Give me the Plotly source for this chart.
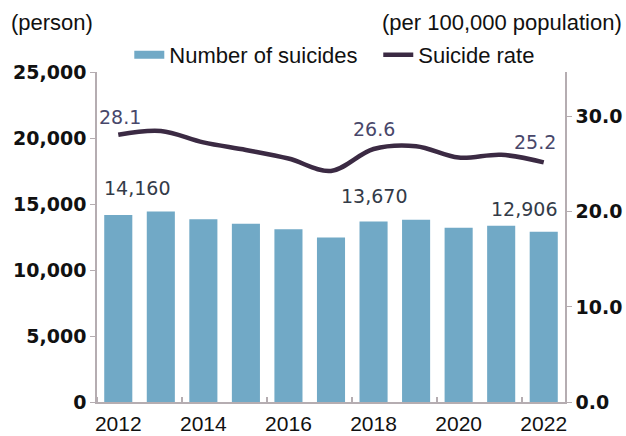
import plotly.graph_objects as go

years = [2012, 2013, 2014, 2015, 2016, 2017, 2018, 2019, 2020, 2021, 2022]
suicides = [14160, 14427, 13836, 13513, 13092, 12463, 13670, 13799, 13195, 13352, 12906]
rates = [28.1, 28.5, 27.3, 26.5, 25.6, 24.3, 26.6, 26.9, 25.7, 26.0, 25.2]
labeled_years = [2012, 2018, 2022]
left_ticks = [0, 5000, 10000, 15000, 20000, 25000]
right_ticks = [0, 10, 20, 30]
x_ticks = [2012, 2014, 2016, 2018, 2020, 2022]

bar_color = "#71a9c6"
line_color = "#3b2a43"
axis_color = "#b5adb1"
bar_label_color = "#333b48"
rate_label_color = "#48476a"

# label offsets (pixels) by year: (xshift, yshift)
bar_label_shift = {2012: (19, 27), 2018: (0, 26), 2022: (-20, 23)}
rate_label_shift = {2012: (2, 18), 2018: (0, 20), 2022: (-9, 20)}

fig = go.Figure()
fig.add_trace(go.Bar(
    x=years, y=suicides, name="Number of suicides", showlegend=False,
    marker=dict(color=bar_color, line=dict(width=0)),
))
# legend swatch for the bars (wide flat rectangle as in the original)
fig.add_trace(go.Scatter(
    x=[None], y=[None], name="Number of suicides", mode="lines",
    line=dict(color=bar_color, width=8), legend="legend",
))
fig.add_trace(go.Scatter(
    x=years, y=rates, name="Suicide rate", yaxis="y2", legend="legend2",
    mode="lines", line=dict(color=line_color, width=4.5, shape="spline", smoothing=1.0),
))

annotations = []
for yr, val in zip(years, suicides):
    if yr in labeled_years:
        dx, dy = bar_label_shift[yr]
        annotations.append(dict(
            x=yr, y=val, xref="x", yref="y", text=f"{val:,}", showarrow=False,
            xanchor="center", yanchor="middle", xshift=dx, yshift=dy,
            font=dict(family="DejaVu Sans", size=19, color=bar_label_color)))
for yr, val in zip(years, rates):
    if yr in labeled_years:
        dx, dy = rate_label_shift[yr]
        annotations.append(dict(
            x=yr, y=val, xref="x", yref="y2", text=f"{val:.1f}", showarrow=False,
            xanchor="center", yanchor="middle", xshift=dx, yshift=dy,
            font=dict(family="DejaVu Sans", size=19, color=rate_label_color)))
annotations.append(dict(
    text="(person)", x=0, y=1, xref="paper", yref="paper", xanchor="left",
    yanchor="middle", xshift=-88, yshift=50, showarrow=False,
    font=dict(family="Liberation Sans", size=22, color="#111111")))
annotations.append(dict(
    text="(per 100,000 population)", x=1, y=1, xref="paper", yref="paper",
    xanchor="right", yanchor="middle", xshift=59, yshift=50, showarrow=False,
    font=dict(family="Liberation Sans", size=22, color="#111111")))

tick_font = dict(family="DejaVu Sans", size=19, color="#111111", weight="bold")
legend_font = dict(family="Liberation Sans", size=22, color="#111111")

fig.update_layout(
    width=626, height=436,
    margin=dict(l=97, r=61, t=72, b=34),
    plot_bgcolor="white", paper_bgcolor="white",
    bargap=0.34,
    showlegend=True,
    legend=dict(orientation="h", x=0.069, y=1.052, xanchor="left", yanchor="middle",
                font=legend_font, itemwidth=30, bgcolor="rgba(0,0,0,0)"),
    legend2=dict(orientation="h", x=0.601, y=1.052, xanchor="left", yanchor="middle",
                 font=legend_font, itemwidth=30, bgcolor="rgba(0,0,0,0)"),
    xaxis=dict(
        tickmode="array", tickvals=x_ticks, ticktext=[str(v) for v in x_ticks],
        range=[2011.5, 2022.5], showline=True, linecolor=axis_color, linewidth=1.5,
        ticks="", showgrid=False, automargin=False, ticklabelstandoff=2,
        minor=dict(tickmode="linear", tick0=2011.5, dtick=2, ticks="inside",
                   ticklen=5, tickcolor=axis_color, tickwidth=1.5, showgrid=False),
        tickfont=dict(family="Liberation Sans", size=21, color="#111111"),
    ),
    yaxis=dict(
        range=[0, 25000], tickmode="array", tickvals=left_ticks,
        ticktext=[f"{v:,}" for v in left_ticks], automargin=False,
        showline=True, linecolor=axis_color, linewidth=1.5, ticks="outside",
        ticklen=5, tickcolor=axis_color, showgrid=False, zeroline=False,
        tickfont=tick_font,
    ),
    yaxis2=dict(
        range=[0, 34.7], overlaying="y", side="right", tickmode="array",
        tickvals=right_ticks, ticktext=[f"{v:.1f}" for v in right_ticks],
        showline=True, linecolor=axis_color, linewidth=1.5, ticks="outside",
        ticklen=5, tickcolor=axis_color, showgrid=False, zeroline=False,
        tickfont=tick_font, automargin=False,
    ),
    annotations=annotations,
)

fig.write_html("out.html")
